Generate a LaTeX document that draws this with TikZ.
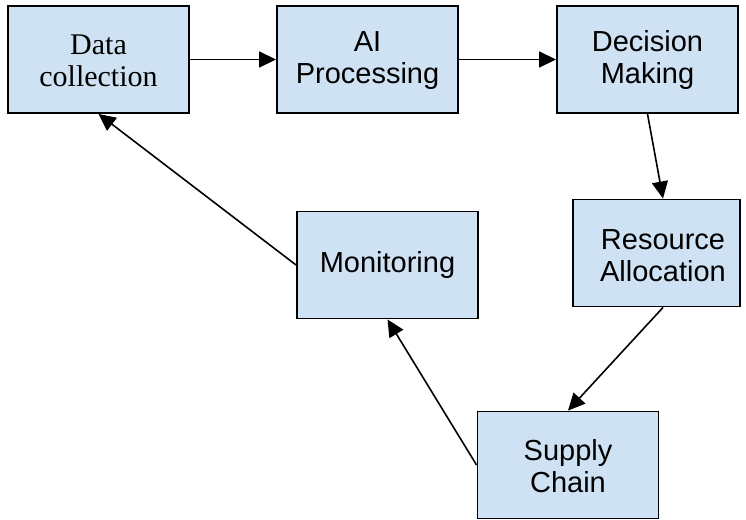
\documentclass[tikz,border=0pt]{standalone}
\usepackage{fontspec}
\setmainfont{Liberation Sans}
\newfontfamily\serifface{Liberation Serif}
\usetikzlibrary{arrows.meta}
\definecolor{boxfill}{HTML}{CFE2F3}
\tikzset{
  stagebox/.style={draw=black, line width=1.9pt, fill=boxfill,
    minimum width=181pt, minimum height=107pt, inner sep=0pt,
    align=center, font=\fontsize{29}{32}\selectfont},
  flow/.style={line width=1.6pt, -{Triangle[length=17pt,width=16pt]}}
}
\begin{document}
\begin{tikzpicture}[x=1pt, y=-1pt]
  \useasboundingbox (0,0) rectangle (746,519);
  % top row
  \node[stagebox, font=\serifface\fontsize{30}{32}\selectfont] (dc) at (98.5,59.5) {\strut Data\\collection};
  \node[stagebox] (ai) at (367.5,59.5) {\strut AI\\Processing};
  \node[stagebox] (dm) at (647.5,59.5) {\strut Decision\\Making};
  % right column, box meets the right margin
  \node[stagebox, minimum width=167pt] (ra) at (656.5,253) {};
  \node[align=center, inner sep=0pt, font=\fontsize{29}{32}\selectfont] (ratext) at (663,254) {\strut Resource\\Allocation};
  % lower loop
  \node[stagebox] (mo) at (387.5,265) {Monitoring};
  \node[stagebox] (sc) at (568,465) {\strut Supply\\Chain};
  % connectors
  \draw[flow] (dc.east) -- (ai.west);
  \draw[flow] (ai.east) -- (dm.west);
  \draw[flow] (dm.south) -- ([xshift=6.5pt]ra.north);
  \draw[flow] ([xshift=6.5pt]ra.south) -- (sc.north);
  \draw[flow] (sc.west) -- (mo.south);
  \draw[flow] (mo.west) -- (dc.south);
\end{tikzpicture}
\end{document}
